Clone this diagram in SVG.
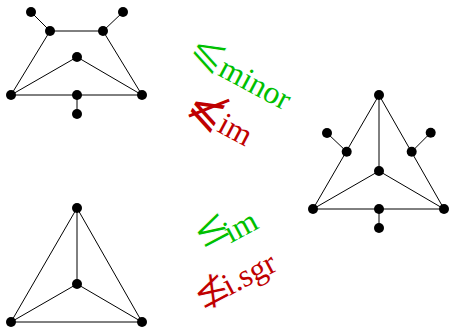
<svg xmlns="http://www.w3.org/2000/svg" width="450" height="328" viewBox="0 0 450 328">
<style>
.e{stroke:#000;stroke-width:1;fill:none}
.n{fill:#000}
.lbl{font-family:"Liberation Serif","DejaVu Serif",serif;font-size:32px}
.sym{font-family:"DejaVu Sans","DejaVu Serif",sans-serif;font-size:44px;stroke:#fff;stroke-width:1}
.ns{stroke:none}
.g{fill:#00bf00}
.r{fill:#bf0000}
</style>
<rect width="450" height="328" fill="#fff"/>
<g id="connectors">
<path class="e" d="M31,12L50,31L103,31L123,12M50,31L11,95L142,95L103,31M11,95L77,57L142,95M77,95L77,114"/>
<path class="e" d="M379,95L313,209L444,209L379,95M379,95L379,171M313,209L379,171L444,209M346.7,151.7L327,133M411.7,151.7L430.7,132.7M379,209L379,229"/>
<path class="e" d="M77,208L11,322L142,322L77,208M77,208L77,284M11,322L77,284L142,322"/>
</g>
<g id="graphA">
<circle class="n" cx="31" cy="12" r="5"/>
<circle class="n" cx="50" cy="31" r="5"/>
<circle class="n" cx="103" cy="31" r="5"/>
<circle class="n" cx="123" cy="12" r="5"/>
<circle class="n" cx="77" cy="57" r="5"/>
<circle class="n" cx="11" cy="95" r="5"/>
<circle class="n" cx="77" cy="95" r="5"/>
<circle class="n" cx="142" cy="95" r="5"/>
<circle class="n" cx="77" cy="114" r="5"/>
</g>
<g id="graphB">
<circle class="n" cx="379" cy="95" r="5"/>
<circle class="n" cx="346.7" cy="151.7" r="5"/>
<circle class="n" cx="327" cy="133" r="5"/>
<circle class="n" cx="411.7" cy="151.7" r="5"/>
<circle class="n" cx="430.7" cy="132.7" r="5"/>
<circle class="n" cx="379" cy="171" r="5"/>
<circle class="n" cx="313" cy="209" r="5"/>
<circle class="n" cx="379" cy="209" r="5"/>
<circle class="n" cx="444" cy="209" r="5"/>
<circle class="n" cx="379" cy="228" r="5"/>
</g>
<g id="graphC">
<circle class="n" cx="77" cy="208" r="5"/>
<circle class="n" cx="77" cy="284" r="5"/>
<circle class="n" cx="11" cy="322" r="5"/>
<circle class="n" cx="142" cy="322" r="5"/>
</g>
<g id="labels">
<text class="lbl g" transform="translate(185,58) rotate(28)"><tspan class="sym" dy="-3">⩽</tspan><tspan dx="-1" dy="3">minor</tspan></text>
<text class="lbl r" transform="translate(184,114) rotate(28)"><tspan class="sym ns" dy="-1">⩽̸</tspan><tspan dx="-1" dy="1">im</tspan></text>
<text class="lbl g" transform="translate(205,257) rotate(-28)"><tspan class="sym" dy="-8">≤</tspan><tspan dx="-8" dy="8">im</tspan></text>
<text class="lbl r" transform="translate(201,311) rotate(-28)"><tspan class="sym">≰</tspan><tspan dx="-5">i.sgr</tspan></text>
</g>
</svg>
